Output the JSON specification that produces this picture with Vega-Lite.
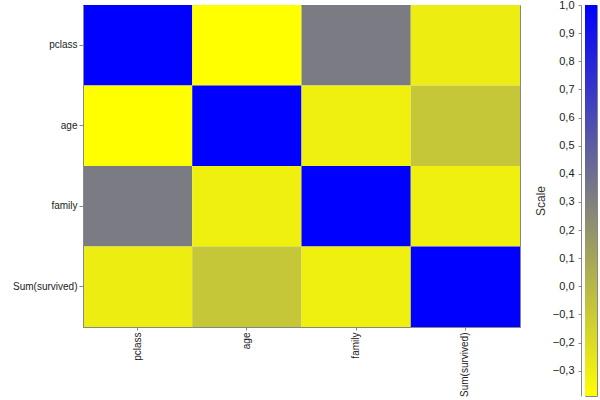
{
  "$schema": "https://vega.github.io/schema/vega-lite/v6.json",
  "background": "white",
  "padding": {"left": 12, "top": -2, "right": 3, "bottom": 0},
  "spacing": 12,
  "config": {
    "view": {"stroke": "#888888", "strokeWidth": 1},
    "axis": {"labelFont": "Liberation Sans", "titleFont": "Liberation Sans", "labelColor": "#222222", "domainColor": "#888888", "tickColor": "#888888", "grid": false}
  },
  "hconcat": [
    {
      "width": 437,
      "height": 322,
      "data": {"values": [
        {"row": "pclass", "col": "pclass", "r": 1.0},
        {"row": "pclass", "col": "age", "r": -0.39},
        {"row": "pclass", "col": "family", "r": 0.33},
        {"row": "pclass", "col": "Sum(survived)", "r": -0.29},
        {"row": "age", "col": "pclass", "r": -0.39},
        {"row": "age", "col": "age", "r": 1.0},
        {"row": "age", "col": "family", "r": -0.31},
        {"row": "age", "col": "Sum(survived)", "r": -0.08},
        {"row": "family", "col": "pclass", "r": 0.33},
        {"row": "family", "col": "age", "r": -0.31},
        {"row": "family", "col": "family", "r": 1.0},
        {"row": "family", "col": "Sum(survived)", "r": -0.31},
        {"row": "Sum(survived)", "col": "pclass", "r": -0.29},
        {"row": "Sum(survived)", "col": "age", "r": -0.08},
        {"row": "Sum(survived)", "col": "family", "r": -0.31},
        {"row": "Sum(survived)", "col": "Sum(survived)", "r": 1.0}
      ]},
      "mark": {"type": "rect"},
      "encoding": {
        "x": {"field": "col", "type": "nominal", "sort": ["pclass", "age", "family", "Sum(survived)"],
              "scale": {"paddingInner": 0, "paddingOuter": 0},
              "axis": {"title": null, "labelAngle": -90, "labelFontSize": 10, "tickSize": 3, "labelPadding": 2}},
        "y": {"field": "row", "type": "nominal", "sort": ["pclass", "age", "family", "Sum(survived)"],
              "scale": {"paddingInner": 0, "paddingOuter": 0},
              "axis": {"title": null, "labelFontSize": 10, "tickSize": 4, "labelPadding": 2}},
        "color": {"field": "r", "type": "quantitative",
                  "scale": {"domain": [-0.39, 1.0], "range": ["#ffff00", "#0000ff"], "interpolate": "rgb"},
                  "legend": null}
      }
    },
    {
      "width": 12,
      "height": 391,
      "data": {"values": [{"lo": -0.39, "hi": 1.0}]},
      "mark": {"type": "rect",
               "color": {"gradient": "linear", "x1": 0, "y1": 1, "x2": 0, "y2": 0,
                         "stops": [{"offset": 0, "color": "#ffff00"}, {"offset": 1, "color": "#0000ff"}]}},
      "encoding": {
        "x": {"datum": 0, "type": "quantitative", "scale": {"domain": [0, 1]}, "axis": null},
        "x2": {"datum": 1},
        "y": {"field": "lo", "type": "quantitative",
              "scale": {"domain": [-0.39, 1.0], "nice": false, "zero": false},
              "axis": {"orient": "left", "title": "Scale", "titleFontSize": 12, "titleFontWeight": "normal", "titleColor": "#333333",
                       "values": [-0.3, -0.2, -0.1, 0, 0.1, 0.2, 0.3, 0.4, 0.5, 0.6, 0.7, 0.8, 0.9, 1.0],
                       "labelExpr": "replace(format(datum.value, '.1f'), '.', ',')",
                       "labelFontSize": 11, "tickSize": 3, "offset": 4, "labelPadding": 4, "titlePadding": 5}},
        "y2": {"field": "hi"}
      }
    }
  ]
}
